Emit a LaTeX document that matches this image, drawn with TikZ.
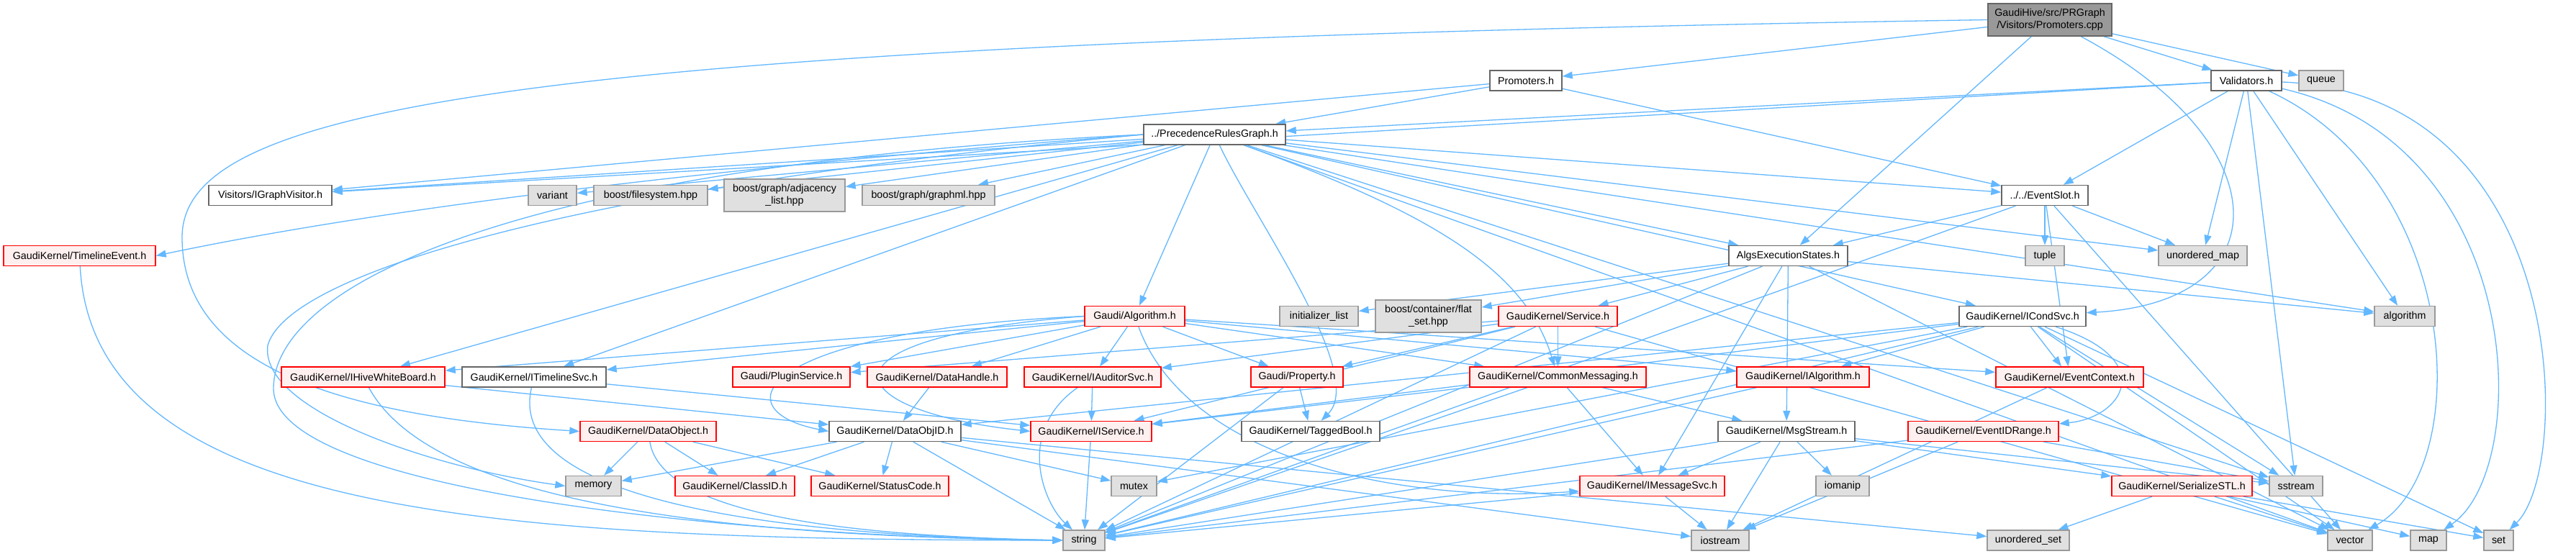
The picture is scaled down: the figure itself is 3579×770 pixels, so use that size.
\documentclass[tikz,border=0pt]{standalone}
\usepackage{fontspec}
\setmainfont{Liberation Sans}
\usetikzlibrary{arrows.meta}
\pgfdeclarelayer{bg}
\pgfdeclarelayer{edges}
\pgfsetlayers{bg,edges,main}
\definecolor{eblue}{HTML}{63B8FF}
\definecolor{gfill}{HTML}{E0E0E0}
\definecolor{gline}{HTML}{999999}
\definecolor{dline}{HTML}{666666}
\definecolor{pfill}{HTML}{FFF0F0}
\definecolor{curfill}{HTML}{999999}
\tikzset{
  nbase/.style={draw, rectangle, inner sep=0pt, line width=1.4pt, minimum height=28pt, align=center, font=\fontsize{14.3}{17}\selectfont},
  ncur/.style={nbase, fill=curfill, draw=dline},
  nwh/.style={nbase, fill=white, draw=dline},
  ngr/.style={nbase, fill=gfill, draw=gline},
  nrd/.style={nbase, fill=pfill, draw=red},
  lnk/.style={draw=eblue, line width=1.3pt, -{Triangle[length=14pt,width=10pt]}},
}
\newcommand{\lk}[2]{\draw[lnk] (#1) -- (#2);}
\begin{document}
\begin{tikzpicture}[x=1pt,y=1pt]
\begin{pgfonlayer}{bg}
\fill[white] (0,0) rectangle (3579,-770);
\end{pgfonlayer}
\useasboundingbox (0,0) rectangle (3579,-770);

% row 0
\node[ncur, minimum width=172, minimum height=45] (cpp) at (2848,-27.5) {GaudiHive/src/PRGraph\\/Visitors/Promoters.cpp};
% row 1
\node[nwh, minimum width=100] (promh) at (2120,-112) {Promoters.h};
\node[nwh, minimum width=98] (valh) at (3121,-112) {Validators.h};
\node[ngr, minimum width=62] (queue) at (3225,-112) {queue};
% row 2
\node[nwh, minimum width=197] (prg) at (1687.5,-187) {../PrecedenceRulesGraph.h};
% row 3
\node[nwh, minimum width=171] (igv) at (375.5,-271.5) {Visitors/IGraphVisitor.h};
\node[ngr, minimum width=67] (variant) at (767.5,-271.5) {variant};
\node[ngr, minimum width=158] (bfs) at (904,-271.5) {boost/filesystem.hpp};
\node[ngr, minimum width=168, minimum height=45] (badj) at (1090,-271.5) {boost/graph/adjacency\\\_list.hpp};
\node[ngr, minimum width=184] (bgml) at (1290,-271.5) {boost/graph/graphml.hpp};
\node[nwh, minimum width=120] (evslot) at (2841,-271.5) {../../EventSlot.h};
% row 4
\node[nrd, minimum width=211] (tle) at (110.5,-355.5) {GaudiKernel/TimelineEvent.h};
\node[nwh, minimum width=165] (algs) at (2484.5,-355.5) {AlgsExecutionStates.h};
\node[ngr, minimum width=54] (tuple) at (2841,-355.5) {tuple};
\node[ngr, minimum width=123] (umap) at (3060.5,-355.5) {unordered\_map};
% row 5
\node[nrd, minimum width=139] (alg) at (1576.5,-439.5) {Gaudi/Algorithm.h};
\node[ngr, minimum width=109] (initl) at (1832.5,-439.5) {initializer\_list};
\node[ngr, minimum width=147, minimum height=45] (flat) at (1984.5,-439.5) {boost/container/flat\\\_set.hpp};
\node[nrd, minimum width=165] (svc) at (2164.5,-439.5) {GaudiKernel/Service.h};
\node[nwh, minimum width=176] (icond) at (2810,-439.5) {GaudiKernel/ICondSvc.h};
\node[ngr, minimum width=84] (algo) at (3341,-439.5) {algorithm};
% row 6
\node[nrd, minimum width=227] (ihwb) at (504.5,-524) {GaudiKernel/IHiveWhiteBoard.h};
\node[nwh, minimum width=200] (itsvc) at (742,-524) {GaudiKernel/ITimelineSvc.h};
\node[nrd, minimum width=163] (plug) at (1099.5,-524) {Gaudi/PluginService.h};
\node[nrd, minimum width=194] (dh) at (1302,-524) {GaudiKernel/DataHandle.h};
\node[nrd, minimum width=190] (iaud) at (1518,-524) {GaudiKernel/IAuditorSvc.h};
\node[nrd, minimum width=128] (prop) at (1802,-524) {Gaudi/Property.h};
\node[nrd, minimum width=245] (cmsg) at (2164.5,-524) {GaudiKernel/CommonMessaging.h};
\node[nrd, minimum width=184] (ialg) at (2505,-524) {GaudiKernel/IAlgorithm.h};
\node[nrd, minimum width=205] (evctx) at (2875.5,-524) {GaudiKernel/EventContext.h};
% row 7
\node[nrd, minimum width=189] (dobj) at (900.5,-599.5) {GaudiKernel/DataObject.h};
\node[nwh, minimum width=183] (doid) at (1243.5,-599.5) {GaudiKernel/DataObjID.h};
\node[nrd, minimum width=168] (isvc) at (1516,-599.5) {GaudiKernel/IService.h};
\node[nwh, minimum width=192] (tbool) at (1821,-599.5) {GaudiKernel/TaggedBool.h};
\node[nwh, minimum width=190] (msgs) at (2482,-599.5) {GaudiKernel/MsgStream.h};
\node[nrd, minimum width=209] (evid) at (2755.5,-599.5) {GaudiKernel/EventIDRange.h};
% row 8
\node[ngr, minimum width=77] (memory) at (824.5,-675.5) {memory};
\node[nrd, minimum width=166] (classid) at (1021,-675.5) {GaudiKernel/ClassID.h};
\node[nrd, minimum width=191] (sc) at (1222.5,-675.5) {GaudiKernel/StatusCode.h};
\node[ngr, minimum width=63] (mutex) at (1575.5,-675.5) {mutex};
\node[nrd, minimum width=201] (imsg) at (2295.5,-675.5) {GaudiKernel/IMessageSvc.h};
\node[ngr, minimum width=74] (iomanip) at (2560,-675.5) {iomanip};
\node[nrd, minimum width=195] (sstl) at (3031.5,-675.5) {GaudiKernel/SerializeSTL.h};
\node[ngr, minimum width=74] (sstream) at (3190,-675.5) {sstream};
% row 9
\node[ngr, minimum width=58] (string) at (1506,-751) {string};
\node[ngr, minimum width=80] (iostream) at (2390,-751) {iostream};
\node[ngr, minimum width=114] (uset) at (2818,-751) {unordered\_set};
\node[ngr, minimum width=62] (vector) at (3265,-751) {vector};
\node[ngr, minimum width=50] (map) at (3374,-751) {map};
\node[ngr, minimum width=41] (set) at (3471.5,-751) {set};

\coordinate (k1) at (253,-330);
\coordinate (k2) at (380,-540);
\coordinate (k3) at (372,-480);

\begin{pgfonlayer}{edges}
% Promoters.cpp
\lk{cpp}{promh}
\lk{cpp}{valh}
\lk{cpp}{queue}
\lk{cpp}{algs}
\draw[lnk] (cpp) .. controls (3170,-200) and (3170,-420) .. (icond);
\draw[lnk] (cpp.west) .. controls (700,-60) and (253,-150) .. (k1) .. controls (253,-520) and (500,-580) .. (dobj.west);
% Promoters.h
\lk{promh}{prg}
\lk{promh}{igv}
\lk{promh}{evslot}
% Validators.h
\lk{valh}{prg}
\lk{valh}{igv}
\lk{valh}{evslot}
\lk{valh}{umap}
\lk{valh}{algo}
\lk{valh}{sstream}
\draw[lnk] (valh) .. controls (3420,-250) and (3440,-650) .. (vector);
\draw[lnk] (valh) .. controls (3510,-200) and (3520,-650) .. (map);
\draw[lnk] (valh) .. controls (3572,-130) and (3575,-650) .. (set);
% PrecedenceRulesGraph.h
\lk{prg}{igv}
\draw[lnk] (prg.west) .. controls (900,-240) and (480,-300) .. (tle.east);
\lk{prg}{variant}
\lk{prg}{bfs}
\lk{prg}{badj}
\lk{prg}{bgml}
\lk{prg}{ihwb}
\lk{prg}{itsvc}
\lk{prg}{alg}
\draw[lnk] (prg.west) .. controls (800,-260) and (400,-380) .. (k3) .. controls (360,-570) and (600,-650) .. (memory.west);
\draw[lnk] (prg.west) .. controls (700,-230) and (380,-400) .. (k2) .. controls (380,-680) and (1000,-745) .. (string.west);
\draw[lnk] (prg) .. controls (2000,-300) and (2120,-380) .. (cmsg);
\draw[lnk] (prg) .. controls (1740,-300) and (1900,-520) .. (tbool);
\lk{prg}{algs}
\lk{prg}{evslot}
\lk{prg}{icond}
\lk{prg}{umap}
\lk{prg}{algo}
\lk{prg}{vector}
\lk{prg}{sstream}
% EventSlot.h
\lk{evslot}{algs}
\lk{evslot}{tuple}
\lk{evslot}{umap}
\lk{evslot}{evctx}
\lk{evslot}{vector}
\lk{evslot}{string}
% TimelineEvent.h
\draw[lnk] (tle) .. controls (130,-720) and (700,-750) .. (string.west);
% AlgsExecutionStates.h
\lk{algs}{initl}
\lk{algs}{flat}
\lk{algs}{svc}
\lk{algs}{algo}
\lk{algs}{vector}
\lk{algs}{string}
\lk{algs}{msgs}
\lk{algs}{imsg}
% Gaudi/Algorithm.h
\lk{alg}{plug}
\lk{alg}{dh}
\lk{alg}{iaud}
\lk{alg}{prop}
\draw[lnk] (alg.west) .. controls (1050,-460) and (1000,-570) .. (doid.west);
\draw[lnk] (alg.west) .. controls (1120,-470) and (1160,-570) .. (isvc.west);
\draw[lnk] (alg) .. controls (1650,-640) and (1950,-700) .. (imsg);
\lk{alg}{cmsg}
\lk{alg}{ialg}
\lk{alg}{evctx}
\lk{alg}{ihwb}
\lk{alg}{itsvc}
% Service.h
\lk{svc}{cmsg}
\lk{svc}{isvc}
\lk{svc}{prop}
\lk{svc}{iaud}
\lk{svc}{plug}
\lk{svc}{string}
\lk{svc}{vector}
% ICondSvc.h
\lk{icond}{evctx}
\draw[lnk] (icond) .. controls (3000,-500) and (2950,-580) .. (evid);
\lk{icond}{ialg}
\lk{icond}{isvc}
\lk{icond}{doid}
\lk{icond}{string}
\lk{icond}{sstream}
\lk{icond}{set}
\lk{icond}{vector}
\lk{icond}{mutex}
% row 6 sources
\lk{ihwb}{doid}
\draw[lnk] (ihwb) .. controls (600,-700) and (1000,-745) .. (string.west);
\lk{itsvc}{isvc}
\draw[lnk] (itsvc) .. controls (700,-700) and (1100,-745) .. (string.west);
\lk{dh}{doid}
\lk{iaud}{isvc}
\draw[lnk] (iaud) .. controls (1410,-600) and (1450,-700) .. (string);
\lk{prop}{tbool}
\lk{prop}{string}
\lk{cmsg}{msgs}
\lk{cmsg}{imsg}
\lk{cmsg}{string}
\lk{cmsg}{isvc}
\lk{ialg}{string}
\lk{evctx}{iostream}
% row 7 sources
\lk{dobj}{memory}
\lk{dobj}{classid}
\lk{dobj}{sc}
\draw[lnk] (dobj) .. controls (920,-720) and (1200,-745) .. (string.west);
\lk{doid}{memory}
\lk{doid}{classid}
\lk{doid}{sc}
\lk{doid}{mutex}
\lk{doid}{string}
\lk{doid}{iostream}
\lk{doid}{uset}
\lk{isvc}{string}
\lk{msgs}{imsg}
\lk{msgs}{iomanip}
\lk{msgs}{string}
\lk{msgs}{iostream}
\lk{msgs}{sstl}
\lk{msgs}{sstream}
\lk{evid}{sstream}
\lk{evid}{string}
\lk{evid}{iostream}
% row 8 sources
\lk{imsg}{iostream}
\lk{imsg}{string}
\lk{sstl}{uset}
\lk{sstl}{vector}
\lk{sstl}{map}
\lk{sstl}{set}
\end{pgfonlayer}
\end{tikzpicture}
\end{document}
